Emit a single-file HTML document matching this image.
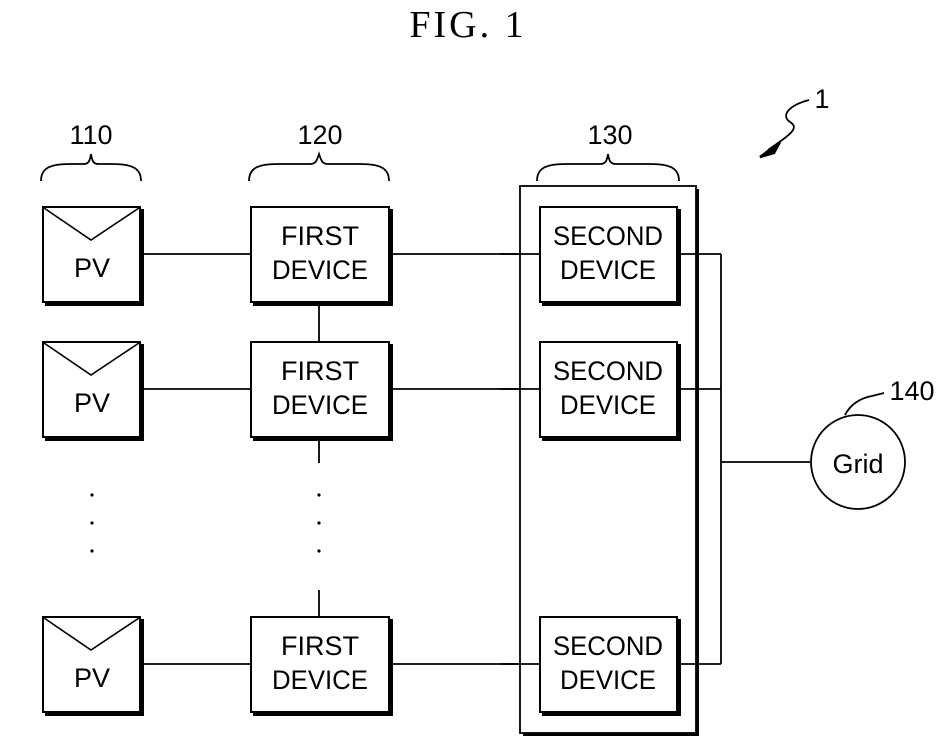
<!DOCTYPE html>
<html><head><style>body{margin:0;background:#fff}svg{display:block}</style></head><body>
<svg width="951" height="754" viewBox="0 0 951 754" xmlns="http://www.w3.org/2000/svg" font-family="Liberation Sans, sans-serif">
<rect width="951" height="754" fill="#fff"/>
<text x="468" y="37" font-family="Liberation Serif, serif" font-size="38" text-anchor="middle" letter-spacing="3">FIG.  1</text>
<g fill="none" stroke="#000" stroke-width="1.8">
<path d="M41,181 C41,168 50,164 70,164 L84,164 C89,164 90,160 91,154 C92,160 93,164 98,164 L112,164 C132,164 141,168 141,181"/>
<path d="M249,181 C249,168 258,164 278,164 L310,164 C316,164 317,160 319,154 C321,160 322,164 328,164 L360,164 C380,164 389,168 389,181"/>
<path d="M537,181 C537,168 546,164 566,164 L600,164 C606,164 607,160 608,154 C609,160 610,164 616,164 L650,164 C670,164 679,168 679,181"/>
<path d="M809,100 C790,105 780,115 790,122 C800,128 790,135 768,150"/>
<line x1="140" y1="254" x2="251" y2="254"/><line x1="140" y1="389" x2="251" y2="389"/><line x1="140" y1="664" x2="251" y2="664"/>
<line x1="389" y1="254" x2="540" y2="254"/><line x1="389" y1="389" x2="540" y2="389"/><line x1="389" y1="664" x2="540" y2="664"/>
<line x1="721" y1="462" x2="810" y2="462"/>
<line x1="319" y1="302" x2="319" y2="342"/><line x1="319" y1="437" x2="319" y2="463"/><line x1="319" y1="590" x2="319" y2="617"/>
<circle cx="858" cy="462" r="47"/>
<path d="M845,415 C850,405 860,398 872,396 L884,393"/>
</g>
<polygon points="760,157 780,142 774,153" fill="#000" stroke="#000" stroke-width="2.5"/>
<g fill="#000">
<circle cx="92" cy="495" r="1.6"/><circle cx="92" cy="523" r="1.6"/><circle cx="92" cy="551" r="1.6"/>
<circle cx="319" cy="495" r="1.6"/><circle cx="319" cy="523" r="1.6"/><circle cx="319" cy="551" r="1.6"/>
</g>
<rect x="523" y="189" width="176" height="547" fill="#000"/>
<rect x="520" y="186" width="176" height="547" fill="#fff" stroke="#000" stroke-width="1.8"/>
<g stroke="#000" stroke-width="1.8">
<line x1="721" y1="254" x2="721" y2="664"/>
<line x1="677" y1="254" x2="721" y2="254"/><line x1="677" y1="389" x2="721" y2="389"/><line x1="677" y1="664" x2="721" y2="664"/>
<line x1="500" y1="254" x2="540" y2="254"/><line x1="500" y1="389" x2="540" y2="389"/><line x1="500" y1="664" x2="540" y2="664"/>
</g>
<g stroke="#000" stroke-width="2">
<rect x="46" y="210" width="97" height="95" fill="#000"/><rect x="43" y="207" width="97" height="95" fill="#fff"/>
<rect x="46" y="345" width="97" height="95" fill="#000"/><rect x="43" y="342" width="97" height="95" fill="#fff"/>
<rect x="46" y="620" width="97" height="95" fill="#000"/><rect x="43" y="617" width="97" height="95" fill="#fff"/>
<rect x="254" y="210" width="138" height="95" fill="#000"/><rect x="251" y="207" width="138" height="95" fill="#fff"/>
<rect x="254" y="345" width="138" height="95" fill="#000"/><rect x="251" y="342" width="138" height="95" fill="#fff"/>
<rect x="254" y="620" width="138" height="95" fill="#000"/><rect x="251" y="617" width="138" height="95" fill="#fff"/>
<rect x="543" y="210" width="137" height="95" fill="#000"/><rect x="540" y="207" width="137" height="95" fill="#fff"/>
<rect x="543" y="345" width="137" height="95" fill="#000"/><rect x="540" y="342" width="137" height="95" fill="#fff"/>
<rect x="543" y="620" width="137" height="95" fill="#000"/><rect x="540" y="617" width="137" height="95" fill="#fff"/>
</g>
<g fill="none" stroke="#000" stroke-width="1.6">
<polyline points="44,208 91,240 139,208"/><polyline points="44,343 91,375 139,343"/><polyline points="44,618 91,650 139,618"/>
</g>
<g font-size="27" text-anchor="middle" fill="#000">
<text x="92" y="277">PV</text><text x="92" y="412">PV</text><text x="92" y="687">PV</text>
<text x="320" y="245">FIRST</text><text x="320" y="279" textLength="96" lengthAdjust="spacingAndGlyphs">DEVICE</text>
<text x="320" y="380">FIRST</text><text x="320" y="414" textLength="96" lengthAdjust="spacingAndGlyphs">DEVICE</text>
<text x="320" y="655">FIRST</text><text x="320" y="689" textLength="96" lengthAdjust="spacingAndGlyphs">DEVICE</text>
<text x="608" y="245" textLength="110" lengthAdjust="spacingAndGlyphs">SECOND</text><text x="608" y="279" textLength="96" lengthAdjust="spacingAndGlyphs">DEVICE</text>
<text x="608" y="380" textLength="110" lengthAdjust="spacingAndGlyphs">SECOND</text><text x="608" y="414" textLength="96" lengthAdjust="spacingAndGlyphs">DEVICE</text>
<text x="608" y="655" textLength="110" lengthAdjust="spacingAndGlyphs">SECOND</text><text x="608" y="689" textLength="96" lengthAdjust="spacingAndGlyphs">DEVICE</text>
<text x="858" y="473">Grid</text>
<text x="91" y="144">110</text><text x="320" y="144">120</text><text x="610" y="144">130</text>
<text x="912" y="400">140</text><text x="822" y="108">1</text>
</g>
</svg>
</body></html>
